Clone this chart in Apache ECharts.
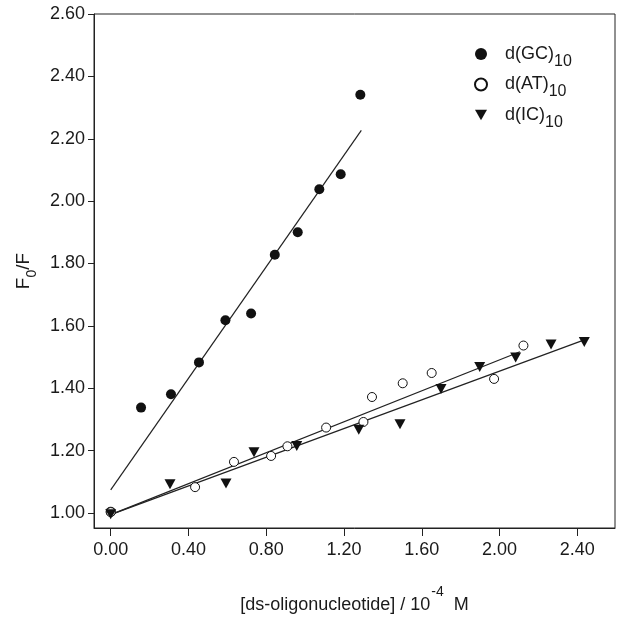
<!DOCTYPE html>
<html>
<head>
<meta charset="utf-8">
<script src="https://cdn.jsdelivr.net/npm/echarts@6/dist/echarts.min.js"></script>
<style>
html,body{margin:0;padding:0;background:#fff;}
#c{width:624px;height:620px;}
</style>
</head>
<body>
<div id="c"></div>
<script>
// ---- data ----
const xTicks = [0.0, 0.4, 0.8, 1.2, 1.6, 2.0, 2.4];
const yTicks = [1.0, 1.2, 1.4, 1.6, 1.8, 2.0, 2.2, 2.4, 2.6];

const gcX = [0, 0.156, 0.310, 0.454, 0.590, 0.722, 0.844, 0.962, 1.073, 1.183, 1.284];
const gcY = [1.004, 1.338, 1.381, 1.483, 1.618, 1.640, 1.828, 1.900, 2.038, 2.086, 2.341];

const atX = [0, 0.434, 0.634, 0.825, 0.909, 1.108, 1.300, 1.344, 1.502, 1.651, 1.972, 2.123];
const atY = [1.003, 1.083, 1.164, 1.183, 1.214, 1.274, 1.292, 1.372, 1.416, 1.449, 1.430, 1.537];

const icX = [0, 0.305, 0.593, 0.737, 0.957, 1.276, 1.488, 1.699, 1.898, 2.083, 2.265, 2.436];
const icY = [0.996, 1.092, 1.095, 1.195, 1.215, 1.267, 1.285, 1.398, 1.468, 1.499, 1.540, 1.548];

// regression lines (end points)
const gcFitX = [0, 1.289];
const gcFitY = [1.074, 2.227];
const atFitX = [0, 2.105];
const atFitY = [0.995, 1.517];
const icFitX = [0, 2.457];
const icFitY = [0.995, 1.560];

const seriesNames = ['d(GC)10', 'd(AT)10', 'd(IC)10'];

const zip = (xs, ys) => xs.map((x, i) => [x, ys[i]]);

const font = 'Liberation Sans, Arial, Helvetica, sans-serif';
const ink = '#1a1a1a';
const downTri = 'path://M0,0L12,0L6,10.4Z';

const chart = echarts.init(document.getElementById('c'), null, {renderer: 'canvas'});

const fitLine = (xs, ys) => ({
  type: 'line',
  data: zip(xs, ys),
  showSymbol: false,
  symbol: 'none',
  silent: true,
  lineStyle: {color: '#222', width: 1.2},
  z: 1
});

chart.setOption({
  animation: false,
  backgroundColor: '#fff',
  grid: {
    left: 94, top: 14, right: 9, bottom: 92,
    show: true, borderColor: '#222', borderWidth: 1, backgroundColor: 'transparent'
  },
  legend: {
    orient: 'vertical',
    left: 469, top: 40,
    itemWidth: 12, itemHeight: 12,
    itemGap: 6,
    data: [
      {name: seriesNames[0]},
      {name: seriesNames[1]},
      {name: seriesNames[2], icon: downTri}
    ],
    formatter: function (name) {
      const m = name.match(/^(.*\))(\d+)$/);
      return '{a|' + m[1] + '}{s|' + m[2] + '}';
    },
    textStyle: {
      color: ink,
      rich: {
        a: {fontSize: 18, fontFamily: font, color: ink, padding: [0, 0, 0, 13], lineHeight: 23, verticalAlign: 'middle'},
        s: {fontSize: 16, fontFamily: font, color: ink, lineHeight: 23, verticalAlign: 'bottom', padding: [0, 0, -4, 0]}
      }
    }
  },
  xAxis: {
    type: 'value',
    min: -0.086, max: 2.594,
    name: '{a|[ds-oligonucleotide] / 10}{sup|-4}{a|  M}',
    nameLocation: 'middle',
    nameGap: 60,
    nameTextStyle: {
      rich: {
        a: {fontSize: 18, fontFamily: font, color: ink, lineHeight: 26, verticalAlign: 'bottom'},
        sup: {fontSize: 14, fontFamily: font, color: ink, lineHeight: 26, verticalAlign: 'top', padding: [-3, 0, 0, 1]}
      }
    },
    axisLine: {show: true, onZero: false, lineStyle: {color: '#222', width: 1}},
    axisTick: {show: true, customValues: xTicks, length: 8, lineStyle: {color: '#222'}},
    axisLabel: {
      customValues: xTicks, margin: 13,
      fontSize: 18, fontFamily: font, color: ink,
      formatter: v => v.toFixed(2)
    },
    splitLine: {show: false}
  },
  yAxis: {
    type: 'value',
    min: 0.952, max: 2.60,
    name: '{a|F}{s|0}{a|/F}',
    nameLocation: 'middle',
    nameRotate: 90,
    nameGap: 58,
    nameTextStyle: {
      rich: {
        a: {fontSize: 19, fontFamily: font, color: ink, lineHeight: 24, verticalAlign: 'middle'},
        s: {fontSize: 14, fontFamily: font, color: ink, lineHeight: 24, verticalAlign: 'bottom', padding: [0, 0, -3, 0]}
      }
    },
    axisLine: {show: true, onZero: false, lineStyle: {color: '#222', width: 1}},
    axisTick: {show: true, customValues: yTicks, length: 6, lineStyle: {color: '#222'}},
    axisLabel: {
      customValues: yTicks, margin: 9,
      fontSize: 18, fontFamily: font, color: ink,
      formatter: v => v.toFixed(2)
    },
    splitLine: {show: false}
  },
  series: [
    fitLine(gcFitX, gcFitY),
    fitLine(atFitX, atFitY),
    fitLine(icFitX, icFitY),
    {
      name: seriesNames[0], type: 'scatter', data: zip(gcX, gcY),
      symbol: 'circle', symbolSize: 10,
      itemStyle: {color: '#111', opacity: 1}, z: 3
    },
    {
      name: seriesNames[1], type: 'scatter', data: zip(atX, atY),
      symbol: 'circle', symbolSize: 9,
      itemStyle: {color: '#fff', borderColor: '#111', borderWidth: 1, opacity: 1}, z: 3
    },
    {
      name: seriesNames[2], type: 'scatter', data: zip(icX, icY),
      symbol: 'triangle', symbolSize: [11, 10], symbolRotate: 180,
      itemStyle: {color: '#111', opacity: 1}, z: 3
    }
  ]
});
</script>
</body>
</html>
